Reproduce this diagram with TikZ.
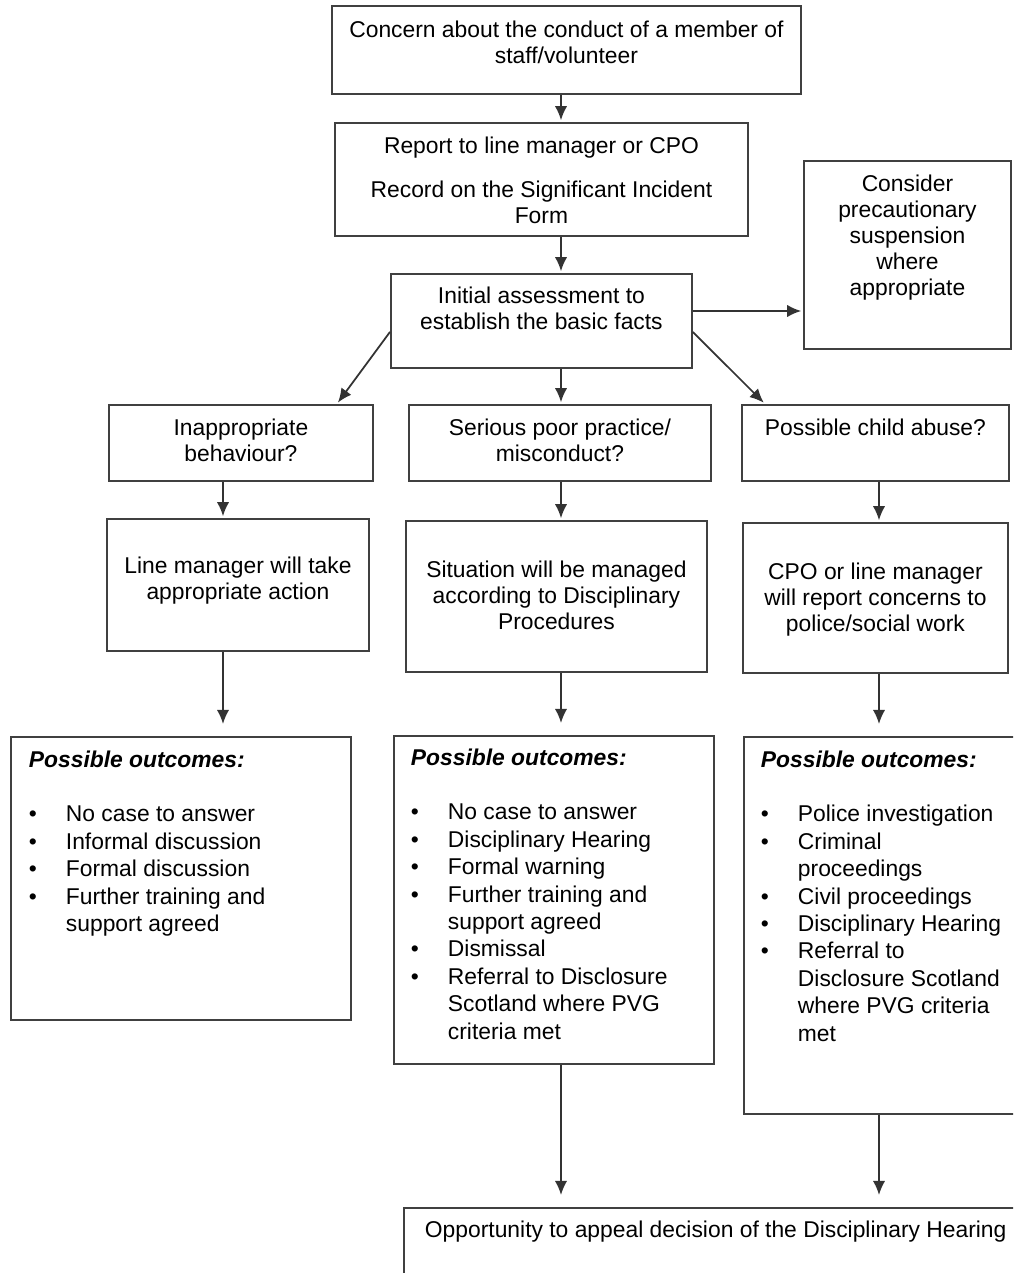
\documentclass[tikz,border=0pt]{standalone}
\usepackage{fontspec}
\setmainfont{Liberation Sans}
\usetikzlibrary{arrows.meta,calc}
\setlength{\parindent}{0pt}
% centred box text: width, height, top pad (cm), text
\newcommand{\cbox}[4]{\parbox[t][#2cm][t]{#1cm}{\centering\vspace*{#3cm}#4}}
% left aligned box text: width, height, top pad, left pad (cm), text
\newcommand{\lbox}[5]{\parbox[t][#2cm][t]{#1cm}{\raggedright\leftskip=#4cm\vspace*{#3cm}#5}}
\newcommand{\itm}{\makebox[0.74cm][l]{\textbullet}}
\newcommand{\cnt}{\hspace*{0.74cm}}
\newcommand{\outhead}{\textbf{\textit{Possible outcomes:}}\\[0.54cm]}

\begin{document}
\begin{tikzpicture}[x=0.02cm, y=-0.02cm, >={Latex[length=8pt,width=7pt]},
  font=\fontsize{13}{14.8}\selectfont,
  box/.style={draw=black!75, line width=1.1pt, inner sep=0pt, anchor=north west},
  arr/.style={->, draw=black!80, line width=1pt, shorten >=1pt},
  gap/.style={shorten >=0.24cm}]
\useasboundingbox (0,0) rectangle (1013,1273);
\clip (0,0) rectangle (1013,1273);
% columns of the vertical connectors
\coordinate (spine) at (561,0);
\coordinate (colA) at (223,0);
\coordinate (colC) at (879,0);
% top of the chart
\node[box] (concern) at (331,5) {\cbox{9.38}{1.76}{0.30}{Concern about the conduct of a member of\\staff/volunteer}};
\node[box] (report) at (334,122) {\cbox{8.26}{2.26}{0.28}{Report to line manager or CPO\\[0.36cm]Record on the Significant Incident\\Form}};
\node[box] (initial) at (390,273) {\cbox{6.02}{1.88}{0.26}{Initial assessment to\\establish the basic facts}};
\node[box] (consider) at (803,160) {\cbox{4.14}{3.76}{0.28}{Consider\\precautionary\\suspension\\where\\appropriate}};
% three kinds of concern
\node[box] (inappr) at (108,404) {\cbox{5.28}{1.52}{0.28}{Inappropriate\\behaviour?}};
\node[box] (serious) at (408,404) {\cbox{6.04}{1.52}{0.28}{Serious poor practice/\\misconduct?}};
\node[box] (child) at (741,404) {\cbox{5.34}{1.52}{0.28}{Possible child abuse?}};
% who acts
\node[box] (linemgr) at (106,518) {\cbox{5.24}{2.64}{0.76}{Line manager will take\\appropriate action}};
\node[box] (situation) at (405,520) {\cbox{6.02}{3.02}{0.80}{Situation will be managed\\according to Disciplinary\\Procedures}};
\node[box] (cpo) at (742,522) {\cbox{5.30}{3.00}{0.80}{CPO or line manager\\will report concerns to\\police/social work}};
% outcomes
\node[box] (outleft) at (10,736) {\lbox{6.80}{5.66}{0.28}{0.36}{\fontsize{13}{15.6}\selectfont\outhead
  \itm No case to answer\\
  \itm Informal discussion\\
  \itm Formal discussion\\
  \itm Further training and\\
  \cnt support agreed}};
\node[box] (outmid) at (393,735) {\lbox{6.40}{6.56}{0.26}{0.34}{\fontsize{13}{15.6}\selectfont\outhead
  \itm No case to answer\\
  \itm Disciplinary Hearing\\
  \itm Formal warning\\
  \itm Further training and\\
  \cnt support agreed\\
  \itm Dismissal\\
  \itm Referral to Disclosure\\
  \cnt Scotland where PVG\\
  \cnt criteria met}};
\node[box] (outright) at (743,736) {\lbox{5.74}{7.54}{0.28}{0.34}{\fontsize{13}{15.6}\selectfont\outhead
  \itm Police investigation\\
  \itm Criminal\\
  \cnt proceedings\\
  \itm Civil proceedings\\
  \itm Disciplinary Hearing\\
  \itm Referral to\\
  \cnt Disclosure Scotland\\
  \cnt where PVG criteria\\
  \cnt met}};
% appeal
\node[box] (appeal) at (403,1207) {\lbox{12.74}{1.86}{0.26}{0.42}{Opportunity to appeal decision of the Disciplinary Hearing}};
% connectors
\draw[arr] (spine |- concern.south) -- (spine |- report.north);
\draw[arr] (spine |- report.south) -- (spine |- initial.north);
\draw[arr] ($(initial.north east)+(0,38)$) coordinate (side) -- (side -| consider.west);
\draw[arr] ($(initial.south west)+(0,-37)$) -- ($(inappr.north east)+(-37,0)$);
\draw[arr] (spine |- initial.south) -- (spine |- serious.north);
\draw[arr] ($(initial.south east)+(0,-37)$) -- ($(child.north west)+(24,0)$);
\draw[arr] (colA |- inappr.south) -- (colA |- linemgr.north);
\draw[arr] (spine |- serious.south) -- (spine |- situation.north);
\draw[arr] (colC |- child.south) -- (colC |- cpo.north);
\draw[arr, gap] (colA |- linemgr.south) -- (colA |- outleft.north);
\draw[arr, gap] (spine |- situation.south) -- (spine |- outmid.north);
\draw[arr, gap] (colC |- cpo.south) -- (colC |- outright.north);
\draw[arr, gap] (spine |- outmid.south) -- (spine |- appeal.north);
\draw[arr, gap] (colC |- outright.south) -- (colC |- appeal.north);
\end{tikzpicture}
\end{document}
